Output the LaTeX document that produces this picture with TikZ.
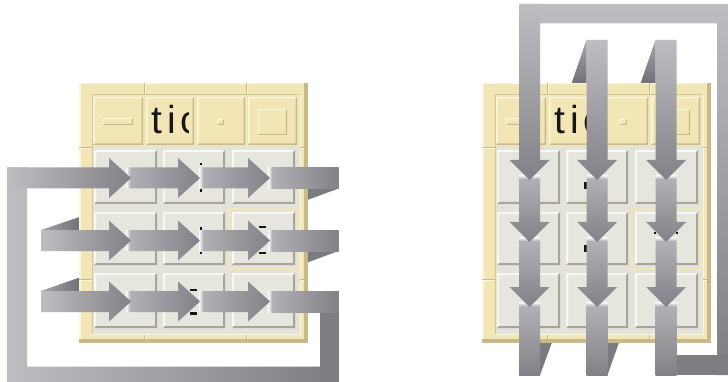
\documentclass[tikz,border=0pt]{standalone}
\usepackage{fontspec}
\setmainfont{Liberation Sans}
\definecolor{cream}{HTML}{F2E6B6}
\definecolor{creamlt}{HTML}{FBF6DE}
\definecolor{creamdk}{HTML}{C9B989}
\definecolor{creamtan}{HTML}{D6C691}
\definecolor{cellfill}{HTML}{E6E6DE}
\definecolor{cellbg}{HTML}{E3E3D9}
\definecolor{celllt}{HTML}{F8F8F2}
\definecolor{celldk}{HTML}{A8A49A}
\definecolor{segA}{HTML}{B0B0B5}
\definecolor{segB}{HTML}{818187}
\definecolor{segL}{HTML}{BEBEC2}
\definecolor{segD}{HTML}{7D7D83}
\definecolor{triD}{HTML}{6E6E74}
\definecolor{triL}{HTML}{A4A4AA}
\definecolor{triM}{HTML}{7A7A80}
\definecolor{ink}{HTML}{161616}
\pgfdeclarehorizontalshading{hseg}{100bp}{color(0bp)=(white); color(25bp)=(white); color(28bp)=(segA); color(75bp)=(segB); color(100bp)=(segB)}
\pgfdeclareverticalshading{vseg}{100bp}{color(0bp)=(segB); color(25bp)=(segB); color(72bp)=(segA); color(75bp)=(white); color(100bp)=(white)}
\newcommand\Bev[8]{%
 \fill[#5] (#1,#2) rectangle (#3,#4);
 \fill[#6] (#1,#2) -- (#3,#2) -- (#3-#8,#2+#8) -- (#1+#8,#2+#8) -- (#1+#8,#4-#8) -- (#1,#4) -- cycle;
 \fill[#7] (#3,#2) -- (#3,#4) -- (#1,#4) -- (#1+#8,#4-#8) -- (#3-#8,#4-#8) -- (#3-#8,#2+#8) -- cycle;}
\newcommand\HArrow[4]{%
 \path[#4] (#2,#1-10.5) -- (#3-22,#1-10.5) -- (#3-22,#1-20) -- (#3,#1) -- (#3-22,#1+20) -- (#3-22,#1+10.5) -- (#2,#1+10.5) -- cycle;}
\newcommand\HBand[4]{\path[#4] (#2,#1-10.5) rectangle (#3,#1+10.5);}
\newcommand\VArrow[4]{%
 \path[#4] (#1-10.5,#2) -- (#1-10.5,#3-20) -- (#1-20,#3-20) -- (#1,#3) -- (#1+20,#3-20) -- (#1+10.5,#3-20) -- (#1+10.5,#2) -- cycle;}
\newcommand\VBand[4]{\path[#4] (#1-10.5,#2) rectangle (#1+10.5,#3);}
\newcommand\TkWin[2]{%
\begin{scope}[shift={(#1,0)}]
 \fill[cream] (79,83) rectangle (308,343);
 \fill[creamlt] (79,83) rectangle (308,84.5);
 \fill[creamlt] (79,83) rectangle (80.5,343);
 \fill[creamdk] (304,83) rectangle (308,343);
 \fill[creamdk] (79,339) rectangle (308,343);
 \fill[cellbg] (92,146.5) rectangle (300,334);
 \draw[creamtan, line width=1] (92,334) -- (92,94.5) -- (300,94.5);
 \draw[creamlt, line width=1] (300,94.5) -- (300,334.5) -- (92,334.5);
 \foreach \nx in {144.5,246.5}{
   \draw[creamdk, line width=1] (\nx,83) -- (\nx,94.5);
   \draw[creamlt, line width=1] (\nx+1,83) -- (\nx+1,94.5);
   \draw[creamdk, line width=1] (\nx,334.5) -- (\nx,343);
   \draw[creamlt, line width=1] (\nx+1,334.5) -- (\nx+1,339);}
 \foreach \ny in {147.5,279.5}{
   \draw[creamdk, line width=1] (79,\ny) -- (92,\ny);
   \draw[creamlt, line width=1] (79,\ny+1) -- (92,\ny+1);
   \draw[creamdk, line width=1] (300,\ny) -- (308,\ny);
   \draw[creamlt, line width=1] (300,\ny+1) -- (304,\ny+1);}
 \Bev{93}{97}{143}{145}{cream}{creamlt}{creamdk}{1.5}
 \Bev{146}{97}{194}{145}{cream}{creamlt}{creamdk}{1.5}
 \Bev{197}{97}{245}{145}{cream}{creamlt}{creamdk}{1.5}
 \Bev{248}{97}{297}{145}{cream}{creamlt}{creamdk}{1.5}
 \Bev{103}{118}{133}{125}{cream}{creamlt}{creamdk}{1.2}
 \Bev{217}{119}{224}{125}{cream}{creamlt}{creamdk}{1.2}
 \Bev{258}{109}{287}{135}{cream}{creamlt}{creamdk}{1.2}
 \begin{scope}
  \clip (147.5,98) rectangle (188.5,143.5);
  \node[titletext] (title#2) at (151,134) {t\kern5pt i\kern4.5pt c};
 \end{scope}
 \foreach \xa/\xb in {94/157,163/225,232/295}{
   \foreach \ya/\yb in {150/204,212/265,273/328}{
     \Bev{\xa}{\ya}{\xb}{\yb}{cellfill}{celllt}{celldk}{2}}}
 \draw[cream, line width=1.5] (229,208.5) rectangle (298,269);
\end{scope}}
\begin{document}
\begin{tikzpicture}[x=1pt,y=-1pt,
  titletext/.style={anchor=base west, inner sep=0pt, font=\fontsize{39}{39}\selectfont, text=ink},
  hs/.style={shade, shading=hseg},
  vs/.style={shade, shading=vseg},
  hfirst/.style={left color=segL, right color=segB},
  vfirst/.style={top color=segL, bottom color=segB},
  htri/.style={left color=triL, right color=triD},
  vtri/.style={top color=triL, bottom color=triD},
  dtri/.style={fill=triM}]
\useasboundingbox (0,0) rectangle (728,382);
\clip (0,0) rectangle (728,382);
\fill[white] (0,0) rectangle (728,382);
% return ribbons (behind the windows)
\path[htri] (41,230) -- (81,216.5) -- (81,230) -- cycle;
\path[htri] (41,291) -- (81,277) -- (81,291) -- cycle;
\path[dtri] (338.5,188.5) -- (306,200.5) -- (306,188.5) -- cycle;
\path[dtri] (338.5,251) -- (306,263) -- (306,251) -- cycle;
\path[vtri] (586.5,40) -- (586.5,85) -- (571,85) -- cycle;
\path[vtri] (655.5,40) -- (655.5,85) -- (640,85) -- cycle;
\path[dtri] (540,375) -- (540,341) -- (552.5,341) -- cycle;
\path[dtri] (607.5,375) -- (607.5,341) -- (619.5,341) -- cycle;
% windows
\TkWin{0}{L}
\TkWin{403}{R}
% glyph fragments peeking out from under the arrows
\fill[ink] (199.5,163) rectangle (201.5,165.5);
\fill[ink] (199.5,189.5) rectangle (201.5,192);
\fill[ink] (200,227) rectangle (202,229.5);
\fill[ink] (200,251.5) rectangle (202,254);
\fill[ink] (259,226) rectangle (266,228.5);
\fill[ink] (259,251.5) rectangle (266,254);
\fill[ink] (190,288.5) rectangle (197,291);
\fill[ink] (190,312) rectangle (197,314.5);
\fill[ink] (584,182) rectangle (586.5,189);
\fill[ink] (584,244.5) rectangle (586.5,251.5);
\fill[ink] (654,232) rectangle (656,234);
\fill[ink] (675.5,232) rectangle (677.5,234);
% left loop
\path[left color=segL, right color=segD] (7,167.5) -- (27,167.5) -- (27,366.5) -- (338.5,366.5) -- (338.5,392) -- (7,392) -- cycle;
\fill[segD] (320,291) rectangle (338.5,392);
% left rows (drawn last-to-first so each arrowhead lies on the next band)
\HBand{178}{268}{338.5}{hs}
\HArrow{178}{199}{270}{hs}
\HArrow{178}{126}{200}{hs}
\HArrow{178}{7}{131}{hfirst}
\HBand{240.5}{268}{338.5}{hs}
\HArrow{240.5}{199}{270}{hs}
\HArrow{240.5}{126}{200}{hs}
\HArrow{240.5}{41}{131}{hfirst}
\HBand{301.5}{268}{338.5}{hs}
\HArrow{301.5}{199}{270}{hs}
\HArrow{301.5}{126}{200}{hs}
\HArrow{301.5}{41}{131}{hfirst}
% right loop
\path[top color=segL, bottom color=segD] (519,4) -- (740,4) -- (740,375) -- (717,375) -- (717,23.5) -- (519,23.5) -- cycle;
\fill[segD] (655.5,355) rectangle (740,375);
% right columns
\VBand{529.5}{302}{375}{vs}
\VArrow{529.5}{237}{307}{vs}
\VArrow{529.5}{175}{242}{vs}
\VArrow{529.5}{4}{180}{vfirst}
\VBand{597}{302}{375}{vs}
\VArrow{597}{237}{307}{vs}
\VArrow{597}{175}{242}{vs}
\VArrow{597}{40}{180}{vfirst}
\VBand{666}{302}{375}{vs}
\VArrow{666}{237}{307}{vs}
\VArrow{666}{175}{242}{vs}
\VArrow{666}{40}{180}{vfirst}
\end{tikzpicture}
\end{document}
